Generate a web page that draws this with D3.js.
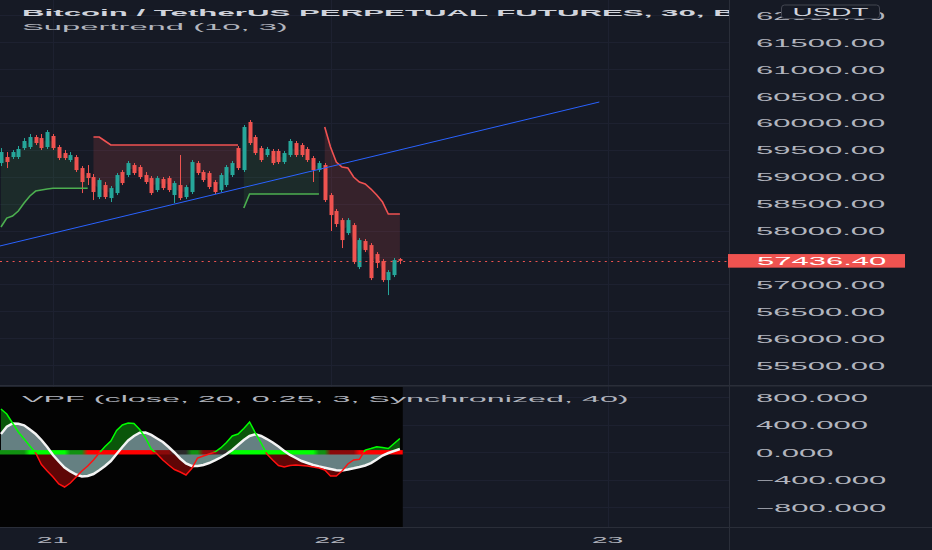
<!DOCTYPE html>
<html><head><meta charset="utf-8">
<script src="https://cdn.jsdelivr.net/npm/d3@7"></script>
<style>html,body{margin:0;padding:0;background:#161a25;overflow:hidden}</style>
</head><body><svg id="c" width="932" height="550"></svg>
<script>
// ---------------- DATA ----------------
const firstCandle = "2021-11-20T19:30:00Z";   // 30-minute bars
const opens  = [59255,59367,59367,59367,59534,59553,59739,59720,59553,59758,59553,59441,59311,59367,59162,59069,58995,58623,58846,58604,58697,59088,59032,59218,59181,59032,58976,58753,58958,58976,58660,58846,58623,58716,59255,59088,59069,58902,58753,58846,59032,59534,59125,60018,59739,59534,59404,59479,59479,59274,59404,59627,59590,59516,59348,59125,59218,58660,58363,58195,57953,58102,57321,57805,57730,57563,57433,57079,57172,57470];
const highs  = [59534,59460,59497,59572,59720,59795,59776,59795,59869,59795,59590,59497,59460,59404,59199,59218,59051,58976,58902,58828,59069,59125,59293,59255,59218,59088,59013,59013,58995,59013,58920,59404,58846,59311,59293,59125,59106,58939,59069,59218,59293,59572,59962,60055,59776,59572,59553,59516,59516,59479,59702,59665,59627,59553,59386,59293,59255,58697,58400,58232,58232,58139,57860,57842,57767,57600,57470,57265,57489,57489];
const lows   = [59199,59162,59330,59330,59497,59516,59590,59497,59516,59497,59311,59311,59274,59088,58697,58846,58567,58586,58586,58530,58660,58846,58995,59032,58958,58865,58660,58716,58753,58716,58511,58567,58586,58679,59032,58902,58772,58679,58716,58809,58995,59125,59088,59590,59404,59274,59367,59218,59237,59237,59367,59367,59367,59274,58902,59088,58530,57991,58065,57674,57916,57377,57284,57600,57079,57303,57042,56800,57135,57377];
const closes = [59460,59274,59460,59516,59665,59739,59627,59534,59832,59534,59348,59348,59404,59125,58902,58976,58716,58939,58623,58790,59032,58883,59255,59069,58995,58902,58697,58976,58790,58753,58883,58604,58809,59274,59069,58939,58809,58716,59032,59181,59255,59162,59925,59627,59441,59311,59516,59255,59274,59441,59665,59404,59404,59311,59125,59255,58567,58288,58121,57823,58195,57414,57823,57637,57116,57396,57079,57228,57451,57436.4];

// Supertrend (10, 3): value and direction (1 = up / green, -1 = down / red)
const supertrend = [58065,58232,58270,58363,58511,58642,58734,58753,58772,58785,58785,58785,58785,58785,58785,58785,
  59739,59739,59665,59590,59590,59590,59590,59590,59590,59590,59590,59590,59590,59590,59590,59590,59590,59590,59590,59590,59590,59590,59590,59590,59590,59590,
  58419,58679,58679,58679,58679,58679,58679,58679,58679,58679,58679,58679,58679,58679,
  59925,59553,59274,59181,59162,58995,58902,58865,58772,58660,58530,58307,58307,58307];
const supertrendDir = [1,1,1,1,1,1,1,1,1,1,1,1,1,1,1,1,
  -1,-1,-1,-1,-1,-1,-1,-1,-1,-1,-1,-1,-1,-1,-1,-1,-1,-1,-1,-1,-1,-1,-1,-1,-1,-1,
  1,1,1,1,1,1,1,1,1,1,1,1,1,1,
  -1,-1,-1,-1,-1,-1,-1,-1,-1,-1,-1,-1,-1,-1];

// Trend line drawing (time, price)
const trendTimes  = ["2021-11-20T18:00:00Z", "2021-11-22T23:15:00Z"];
const trendPrices = [57640, 60390];

const lastPrice = 57436.4;

// VPF oscillator
const vpfFast = [630,557,426,295,193,92,-10,-177,-272,-359,-461,-505,-447,-359,-272,-199,-112,-10,84,164,317,397,426,419,332,208,48,-25,-112,-185,-250,-287,-330,-236,-83,-54,-25,4,63,143,237,266,346,441,281,135,-25,-112,-192,-214,-192,-185,-192,-199,-214,-228,-257,-345,-345,-272,-170,-112,-102,33,55,81,70,55,128,201];
const vpfSlow = [266,372,419,415,393,332,266,179,77,-39,-134,-221,-279,-323,-352,-345,-316,-262,-199,-127,-25,77,172,237,284,288,252,201,150,77,-3,-90,-163,-199,-199,-185,-156,-119,-76,-25,33,106,179,237,262,237,193,143,84,19,-39,-83,-127,-156,-185,-207,-225,-243,-262,-265,-250,-233,-214,-192,-156,-105,-47,-10,19,48];
// zero-line state per bar: 2 strong bull, 1 weak bull, 0 neutral, -1 weak bear, -2 strong bear
const vpfZeroState = [1,1,1,1,1, 2,2,2,2,2,2,2, 1,1,1, -2,-2,-2,-2,-2,-2,-2,-2,-2,-2,-2,-2, -1,-1,-1, 0,0,0, 1,1, -1,-1,-1, 0,0,
  2,2,2,2,2,2,2,2,2,2,2,2,2,2,2, 1,1, -1,-1,-1,-1,-1, -2,-2,-2,-2,-2,-2,-2,-2];

// Axis ticks
const priceTicks = [62000,61500,61000,60500,60000,59500,59000,58500,58000,57500,57000,56500,56000,55500];
const oscTicks = [800,400,0,-400,-800];

// Labels
const titleText = "Bitcoin / TetherUS PERPETUAL FUTURES, 30, BINANCE";
const stLabel = "Supertrend (10, 3)";
const vpfLabel = "VPF (close, 20, 0.25, 3, Synchronized, 40)";
const currency = "USDT";

// ---------------- LAYOUT ----------------
const W = 932, H = 550, plotR = 729;
const mainTop = 0, mainBot = 385, lowTop = 387, lowBot = 527;
const FONT = '"Liberation Sans", Arial, sans-serif';
const BG = '#161a25', GRID = '#1d2130', SEP = '#2a2e39', TXT = '#b2b5be';
const UP = '#26a69a', DN = '#ef5350';

const svg = d3.select('#c');
svg.append('rect').attr('width', W).attr('height', H).attr('fill', BG);
const defs = svg.append('defs');
defs.append('clipPath').attr('id', 'clipMain').append('rect').attr('x', 0).attr('y', mainTop).attr('width', plotR).attr('height', mainBot - mainTop);
defs.append('clipPath').attr('id', 'clipLow').append('rect').attr('x', 0).attr('y', lowTop).attr('width', plotR).attr('height', lowBot - lowTop);

const t0 = new Date(firstCandle).getTime();
const times = closes.map((_, i) => new Date(t0 + i * 30 * 60 * 1000));

const x = d3.scaleUtc()
  .domain([new Date("2021-11-21T00:00:00Z"), new Date("2021-11-22T00:00:00Z")])
  .range([53, 330.5]);
x.domain([x.invert(0), x.invert(plotR)]).range([0, plotR]);
const step = x(times[1]) - x(times[0]);
const bw = 4;

const y = d3.scaleLinear().domain([55500, 61500]).range([365, 42.3]);
const yo = d3.scaleLinear().domain([-800, 800]).range([507.3, 397.3]);

function stext(g, px, py, str, o) {
  return g.append('text')
    .attr('transform', `translate(${px},${py}) scale(${o.sx},1)`)
    .attr('font-family', FONT).attr('font-size', o.size)
    .attr('font-weight', o.weight || 400)
    .attr('fill', o.fill || TXT)
    .attr('text-anchor', o.anchor || 'start')
    .text(str);
}

// ---------------- GRID ----------------
const gGrid = svg.append('g');
gGrid.selectAll('line.h').data(priceTicks).join('line')
  .attr('x1', 0).attr('x2', plotR)
  .attr('y1', d => Math.round(y(d)) + 0.5).attr('y2', d => Math.round(y(d)) + 0.5)
  .attr('stroke', GRID).attr('clip-path', 'url(#clipMain)');
gGrid.selectAll('line.o').data(oscTicks).join('line')
  .attr('x1', 0).attr('x2', plotR)
  .attr('y1', d => Math.round(yo(d)) + 0.5).attr('y2', d => Math.round(yo(d)) + 0.5)
  .attr('stroke', GRID);
const dayTicks = x.ticks(d3.utcDay.every(1));
gGrid.selectAll('line.v').data(dayTicks).join('line')
  .attr('x1', d => Math.round(x(d)) + 0.5).attr('x2', d => Math.round(x(d)) + 0.5)
  .attr('y1', 0).attr('y2', lowBot)
  .attr('stroke', GRID);

// ---------------- MAIN PANE ----------------
const gMain = svg.append('g').attr('clip-path', 'url(#clipMain)');
const candles = times.map((t, i) => ({ t, o: opens[i], h: highs[i], l: lows[i], c: closes[i] }));

// supertrend segments
const segs = [];
let cur = null;
candles.forEach((d, i) => {
  const dir = supertrendDir[i];
  if (!cur || cur.dir !== dir) { cur = { dir, pts: [] }; segs.push(cur); }
  cur.pts.push({ t: d.t, v: supertrend[i], mid: (d.o + d.c) / 2 });
});
const stArea = d3.area().x(p => x(p.t)).y0(p => y(p.v)).y1(p => y(p.mid));
const stLine = d3.line().x(p => x(p.t)).y(p => y(p.v));
segs.forEach(s => {
  gMain.append('path').attr('d', stArea(s.pts))
    .attr('fill', s.dir > 0 ? 'rgba(76,175,80,0.12)' : 'rgba(255,82,82,0.14)');
});

// candles
const cx = d => Math.round(x(d.t)) + 0.5;
gMain.selectAll('line.wick').data(candles).join('line')
  .attr('x1', cx).attr('x2', cx)
  .attr('y1', d => y(d.h)).attr('y2', d => y(d.l))
  .attr('stroke', d => d.c >= d.o ? UP : DN).attr('stroke-width', 1);
gMain.selectAll('rect.body').data(candles).join('rect')
  .attr('x', d => cx(d) - bw / 2).attr('width', bw)
  .attr('y', d => y(Math.max(d.o, d.c)))
  .attr('height', d => Math.max(1, Math.abs(y(d.o) - y(d.c))))
  .attr('fill', d => d.c >= d.o ? UP : DN);

segs.forEach(s => {
  gMain.append('path').attr('d', stLine(s.pts)).attr('fill', 'none')
    .attr('stroke', s.dir > 0 ? '#4caf50' : '#f05252').attr('stroke-width', 1.6);
});

// trend line
const trendPts = trendTimes.map((t, i) => [x(new Date(t)), y(trendPrices[i])]);
gMain.append('path').attr('d', d3.line()(trendPts)).attr('stroke', '#2962ff').attr('stroke-width', 1).attr('fill', 'none');

// last price dotted line
gMain.append('line').attr('x1', 0).attr('x2', plotR)
  .attr('y1', Math.round(y(lastPrice)) + 0.5).attr('y2', Math.round(y(lastPrice)) + 0.5)
  .attr('stroke', DN).attr('stroke-width', 1).attr('stroke-dasharray', '2,4.3');

// legend
stext(gMain, 22, 16, titleText, { size: 9.5, sx: 3.29, weight: 700, fill: '#d1d4dc' });
stext(gMain, 22, 29.5, stLabel, { size: 9.5, sx: 3.45, fill: TXT });

// ---------------- LOWER PANE ----------------
const gLow = svg.append('g').attr('clip-path', 'url(#clipLow)');
gLow.append('rect')
  .attr('x', x(times[0]) - step / 2).attr('y', lowTop)
  .attr('width', x(times[times.length - 1]) - x(times[0]) + step)
  .attr('height', lowBot - lowTop).attr('fill', '#030303');

const osc = times.map((t, i) => ({ t, f: vpfFast[i], s: vpfSlow[i], z: vpfZeroState[i] }));
const ax = d => x(d.t);
gLow.append('path').attr('d', d3.area().x(ax).y0(d => yo(d.s)).y1(d => yo(Math.max(d.f, d.s)))(osc)).attr('fill', '#0a560a');
gLow.append('path').attr('d', d3.area().x(ax).y0(d => yo(d.s)).y1(d => yo(Math.min(d.f, d.s)))(osc)).attr('fill', '#5e0606');
gLow.append('path').attr('d', d3.area().x(ax).y0(yo(0)).y1(d => yo(d.s))(osc)).attr('fill', '#6e8b8d').attr('opacity', 0.92);

// zero line with gradient
const zColors = { '2': '#00ff00', '1': '#119111', '0': '#2a2a2a', '-1': '#8a0a0a', '-2': '#ff0000' };
const xa = x(times[0]), xb = x(times[times.length - 1]);
const grad = defs.append('linearGradient').attr('id', 'zg').attr('gradientUnits', 'userSpaceOnUse')
  .attr('x1', xa).attr('x2', xb).attr('y1', 0).attr('y2', 0);
osc.forEach(d => grad.append('stop').attr('offset', (x(d.t) - xa) / (xb - xa)).attr('stop-color', zColors[String(d.z)]));
gLow.append('rect').attr('x', xa - step / 2).attr('width', xb - xa + step)
  .attr('y', yo(0) - 2.2).attr('height', 4.4).attr('fill', 'url(#zg)');

gLow.append('path').attr('d', d3.line().x(ax).y(d => yo(d.s))(osc)).attr('fill', 'none')
  .attr('stroke', '#f4f4f4').attr('stroke-width', 2.5);

defs.append('clipPath').attr('id', 'clipAbove').append('rect').attr('x', 0).attr('y', lowTop).attr('width', plotR).attr('height', yo(0) - lowTop);
defs.append('clipPath').attr('id', 'clipBelow').append('rect').attr('x', 0).attr('y', yo(0)).attr('width', plotR).attr('height', lowBot - yo(0));
const fastLine = d3.line().x(ax).y(d => yo(d.f))(osc);
gLow.append('g').attr('clip-path', 'url(#clipAbove)').append('path').attr('d', fastLine)
  .attr('fill', 'none').attr('stroke', '#00ff00').attr('stroke-width', 1.5);
gLow.append('g').attr('clip-path', 'url(#clipBelow)').append('path').attr('d', fastLine)
  .attr('fill', 'none').attr('stroke', '#ff1010').attr('stroke-width', 1.5);

stext(gLow, 22, 401.5, vpfLabel, { size: 9.5, sx: 3.4, fill: TXT });

// ---------------- SEPARATORS ----------------
svg.append('line').attr('x1', 0).attr('x2', W).attr('y1', 385.75).attr('y2', 385.75).attr('stroke', SEP).attr('stroke-width', 1.5);
svg.append('line').attr('x1', 0).attr('x2', W).attr('y1', 527.5).attr('y2', 527.5).attr('stroke', SEP).attr('stroke-width', 1);
svg.append('line').attr('x1', plotR + 0.5).attr('x2', plotR + 0.5).attr('y1', 0).attr('y2', H).attr('stroke', SEP).attr('stroke-width', 1);

// ---------------- AXES ----------------
function styleAxis(g, sx, size, dx, dy, anchor) {
  g.select('.domain').remove();
  g.selectAll('.tick line').remove();
  g.selectAll('.tick text')
    .attr('x', 0).attr('y', 0).attr('dy', null)
    .attr('transform', `translate(${dx},${dy}) scale(${sx},1)`)
    .attr('font-family', FONT).attr('font-size', size)
    .attr('fill', TXT).attr('text-anchor', anchor);
}
// price labels hidden behind the last-price tag are skipped (as the platform does)
const ly = y(lastPrice);
const visiblePriceTicks = priceTicks.filter(p => Math.abs(y(p) - ly) > 12);
svg.append('g').attr('transform', `translate(${plotR},0)`)
  .call(d3.axisRight(y).tickValues(visiblePriceTicks).tickFormat(d3.format('.2f')).tickSize(0))
  .call(g => styleAxis(g, 2.82, 11, 27, 4, 'start'));
svg.append('g').attr('transform', `translate(${plotR},0)`)
  .call(d3.axisRight(yo).tickValues(oscTicks).tickFormat(d3.format('.3f')).tickSize(0))
  .call(g => styleAxis(g, 2.82, 11, 27, 4, 'start'));
svg.append('g').attr('transform', `translate(0,${lowBot})`)
  .call(d3.axisBottom(x).ticks(d3.utcDay.every(1)).tickFormat(d3.utcFormat('%-d')).tickSize(0))
  .call(g => styleAxis(g, 3.0, 9.5, -1, 16, 'middle'));

// last price tag
svg.append('rect').attr('x', plotR - 1).attr('y', ly - 6.8).attr('width', 177).attr('height', 13.6).attr('fill', DN);
stext(svg, 757, ly + 4, d3.format('.2f')(lastPrice), { size: 11, sx: 2.82, fill: '#ffffff' });

// currency badge (drawn over the top price label, as in the platform)
svg.append('rect').attr('x', 781.5).attr('y', 5).attr('width', 98).attr('height', 13.5).attr('rx', 3)
  .attr('fill', BG).attr('stroke', '#434651').attr('stroke-width', 1);
stext(svg, 830.5, 15.6, currency, { size: 10.5, sx: 2.66, fill: '#d1d4dc', anchor: 'middle' });
</script>
</body></html>
